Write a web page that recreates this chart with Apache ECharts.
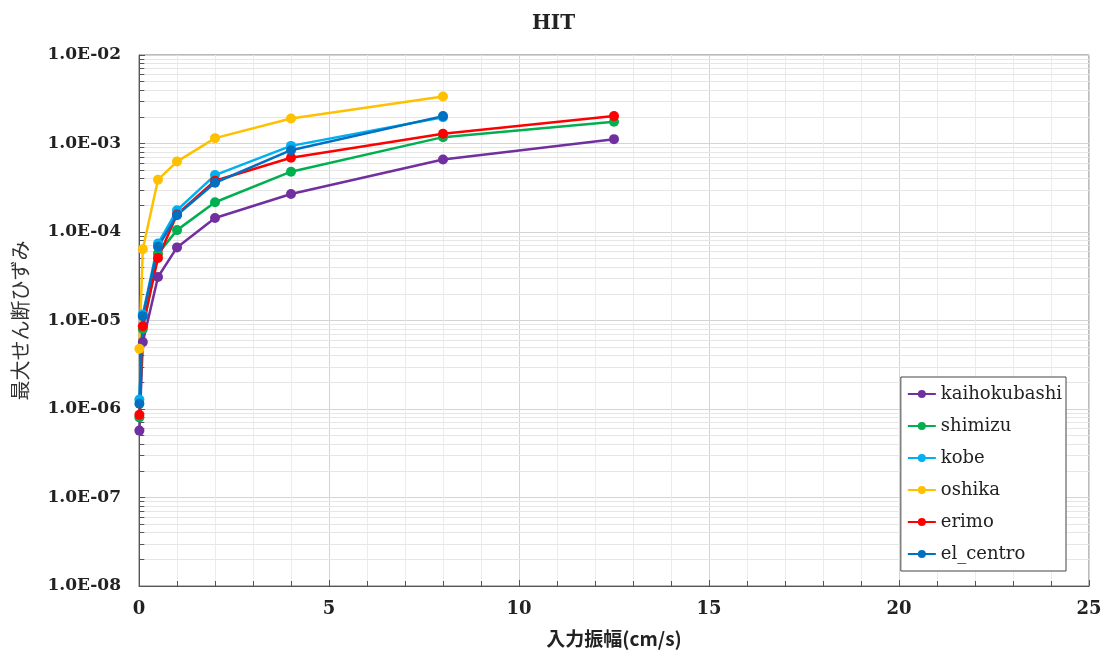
<!DOCTYPE html>
<html><head><meta charset="utf-8">
<script src="https://cdn.jsdelivr.net/npm/echarts@6/dist/echarts.min.js"></script>
<style>html,body{margin:0;padding:0;background:#fff}#c{width:1107px;height:655px}</style>
</head><body><div id="c"></div>
<script>
const xValues = [0.01, 0.1, 0.5, 1, 2, 4, 8, 12.5];
const seriesNames = ['kaihokubashi', 'shimizu', 'kobe', 'oshika', 'erimo', 'el_centro'];
const kaihokubashi = [5.7e-7, 5.7e-6, 3.1e-5, 6.7e-5, 1.44e-4, 2.69e-4, 6.6e-4, 1.12e-3];
const shimizu      = [8.0e-7, 8.0e-6, 5.7e-5, 1.05e-4, 2.17e-4, 4.8e-4, 1.18e-3, 1.76e-3];
const kobe         = [1.28e-6, 1.17e-5, 7.4e-5, 1.76e-4, 4.4e-4, 9.4e-4, 1.98e-3];
const oshika       = [4.8e-6, 6.4e-5, 3.9e-4, 6.25e-4, 1.15e-3, 1.92e-3, 3.4e-3];
const erimo        = [8.6e-7, 8.6e-6, 5.1e-5, 1.58e-4, 3.8e-4, 6.9e-4, 1.29e-3, 2.04e-3];
const el_centro    = [1.15e-6, 1.12e-5, 6.8e-5, 1.55e-4, 3.6e-4, 8.4e-4, 2.04e-3];
const colors = ['#7030A0', '#00B050', '#00B0F0', '#FFC000', '#FF0000', '#0070C0'];
const yTickLabels = ['1.0E-08','1.0E-07','1.0E-06','1.0E-05','1.0E-04','1.0E-03','1.0E-02'];

const allData = [kaihokubashi, shimizu, kobe, oshika, erimo, el_centro];
const serif = '"DejaVu Serif", "Liberation Serif", serif';
const X_MIN = 0, X_MAX = 25;

// minor log grid lines (2..9 within each decade) and small inside ticks
const minorGrid = [];
const minorTicks = [];
for (let e = -8; e < -2; e++) {
  for (let m = 2; m <= 9; m++) {
    const v = m * Math.pow(10, e);
    minorGrid.push([{ coord: [X_MIN, v] }, { coord: [X_MAX, v] }]);
    minorTicks.push([{ coord: [X_MIN, v] }, { coord: [X_MIN + 0.14, v] }]);
  }
}

const series = seriesNames.map((name, i) => ({
  name: name,
  type: 'line',
  data: allData[i].map((v, j) => [xValues[j], v]),
  symbol: 'circle',
  symbolSize: 10,
  lineStyle: { width: 2.5, color: colors[i] },
  itemStyle: { color: colors[i] },
  z: 6
}));
series.push({
  name: '_minorGrid', type: 'line', data: [], z: 1, silent: true,
  markLine: {
    z: 1, silent: true, symbol: 'none', label: { show: false },
    emphasis: { disabled: true },
    lineStyle: { color: '#e6e6e6', width: 1, type: 'solid' },
    data: minorGrid, animation: false
  }
});
series.push({
  name: '_minorTicks', type: 'line', data: [], z: 1, silent: true,
  markLine: {
    z: 1, silent: true, symbol: 'none', label: { show: false },
    emphasis: { disabled: true },
    lineStyle: { color: '#555', width: 1, type: 'solid' },
    data: minorTicks, animation: false
  }
});

const chart = echarts.init(document.getElementById('c'));
chart.setOption({
  animation: false,
  color: colors,
  title: { text: 'HIT', left: 'center', top: 9,
    textStyle: { fontFamily: serif, fontSize: 20, fontWeight: 'bold', color: '#222' } },
  grid: { left: 139, right: 18, top: 55, bottom: 69, show: true, borderColor: '#777', borderWidth: 1 },
  legend: {
    data: seriesNames, orient: 'vertical', right: 41, top: 377, z: 50,
    backgroundColor: '#fff', borderColor: '#444', borderWidth: 1,
    padding: [8, 4, 8, 6], itemGap: 14, itemWidth: 28, itemHeight: 10,
    textStyle: { fontFamily: serif, fontSize: 18, color: '#222' }
  },
  xAxis: {
    type: 'value', min: X_MIN, max: X_MAX, interval: 5,
    name: '入力振幅(cm/s)', nameLocation: 'middle', nameGap: 43,
    nameTextStyle: { fontFamily: '"Noto Sans CJK JP", sans-serif', fontSize: 19, fontWeight: 'bold', color: '#222' },
    axisLine: { show: true, lineStyle: { color: '#555', width: 1 } },
    axisTick: { show: true, inside: true, length: 6, lineStyle: { color: '#555' } },
    minorTick: { show: true, splitNumber: 5, length: 5, lineStyle: { color: '#555' } },
    axisLabel: { fontFamily: serif, fontSize: 18, fontWeight: 'bold', color: '#222', margin: 14 },
    splitLine: { show: true, lineStyle: { color: '#d4d4d4' } },
    minorSplitLine: { show: true, lineStyle: { color: '#ececec' } }
  },
  yAxis: {
    type: 'log', logBase: 10, min: 1e-8, max: 1e-2,
    name: '最大せん断ひずみ', nameLocation: 'middle', nameGap: 109, nameRotate: 90,
    nameTextStyle: { fontFamily: '"Noto Sans CJK JP", sans-serif', fontSize: 20, color: '#333' },
    axisLine: { show: true, lineStyle: { color: '#555', width: 1 } },
    axisTick: { show: true, inside: true, length: 6, lineStyle: { color: '#555' } },
    axisLabel: { fontFamily: serif, fontSize: 17, fontWeight: 'bold', color: '#222', margin: 18,
      formatter: function (v) {
        const e = Math.round(Math.log10(v));
        const idx = e + 8;
        return yTickLabels[idx] !== undefined ? yTickLabels[idx] : '';
      } },
    splitLine: { show: true, lineStyle: { color: '#d4d4d4' } }
  },
  series: series
});
</script></body></html>
